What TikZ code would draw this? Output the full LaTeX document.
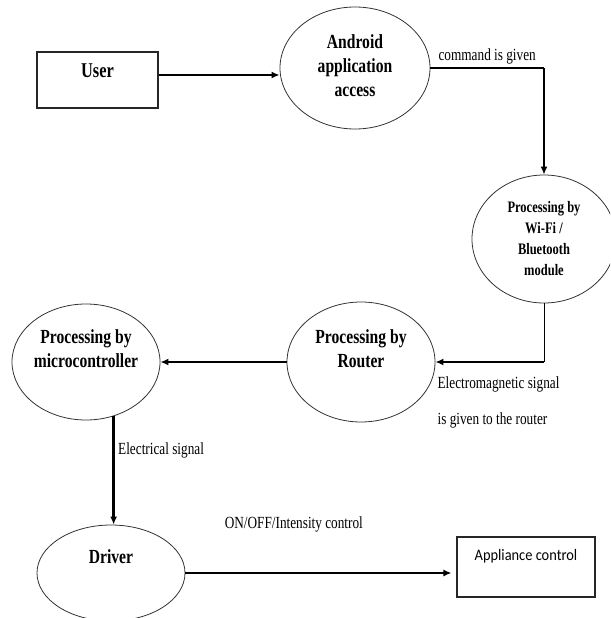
\documentclass[tikz,border=0pt]{standalone}
\usepackage{fontspec}
\setmainfont{Liberation Serif}
\newfontfamily\narrowserif{Liberation Serif}[FakeStretch=0.78]
\newfontfamily\applfont{Carlito}[FakeStretch=0.9]
\usetikzlibrary{shapes.geometric,positioning,arrows.meta}

\begin{document}
\begin{tikzpicture}[x=1pt,y=-1pt,>={Latex[length=8pt,width=7pt]},on grid,
    blob/.style={ellipse,draw=black!80,line width=0.8pt,inner sep=0pt},
    box/.style={rectangle,draw=black!85,line width=1.1pt,inner sep=0pt},
    caption/.style 2 args={font=\narrowserif\bfseries\fontsize{#1}{#2}\selectfont,align=center,inner sep=0pt},
    tag/.style={font=\narrowserif\fontsize{17}{20}\selectfont},
    flow/.style={->,line width=2.5pt},
    wire/.style={line width=1pt}]
                \useasboundingbox (0,0) rectangle (610,618);
                \clip (0,0) rectangle (610,618);

                \node[box,minimum width=121pt,minimum height=56pt,label={[caption={21}{24},yshift=9pt]center:User}] (user) at (97.5,80) {};
                \node[blob,minimum width=150pt,minimum height=122pt,label={[caption={20}{24},yshift=2pt]center:Android\\application\\access}] (android) [above right=12pt and 257.5pt of user] {};
                \node[blob,minimum width=144pt,minimum height=128pt,label={[caption={16}{21}]center:Processing by\\Wi-Fi /\\Bluetooth\\module}] (wifi) [below right=171pt and 189pt of android] {};
                \node[blob,minimum width=148pt,minimum height=120pt,label={[caption={20}{24},yshift=13pt]center:Processing by\\Router}] (router) [below left=123pt and 183pt of wifi] {};
                \node[blob,minimum width=148pt,minimum height=116pt,label={[caption={20}{24},yshift=13pt]center:Processing by\\microcontroller}] (mcu) [left=275pt of router] {};
                \node[blob,minimum width=148pt,minimum height=96pt,label={[caption={20}{24},yshift=16pt]center:Driver}] (driver) [below right=211pt and 25pt of mcu] {};
                \node[box,minimum width=138pt,minimum height=60pt,label={[font=\applfont\fontsize{16}{19}\selectfont,inner sep=0pt,yshift=11pt]center:Appliance control}] (load) [above right=6pt and 415pt of driver] {};

                \coordinate (u_out) at ([yshift=5pt]user.east);
                \draw[flow] (u_out) -- (u_out -| android.west);
                \draw[wire] (android.east) -- node[tag,above] {command is given} (android.east -| wifi.north);
                \draw[flow,line width=2pt] (android.east -| wifi.north) -- (wifi.north);
                \draw[wire] (wifi.south) -- (wifi.south |- router.east);
                \draw[flow] (wifi.south |- router.east) -- (router.east);
                \node[tag,font=\narrowserif\fontsize{17}{36}\selectfont,align=left,anchor=north west,inner sep=0pt] (em_txt) at ([shift={(2pt,-14pt)}]router.east) {Electromagnetic signal\\is given to the router};
                \draw[flow] (router.west) -- (mcu.east);
                \draw[flow] (mcu.-63) -- node[tag,pos=.32,right] {Electrical signal} (mcu.-63 |- driver.north);
                \draw[flow,shorten >=5pt] (driver.east) -- node[tag,pos=.4,above=36pt] {ON/OFF/Intensity control} (driver.east -| load.west);
\end{tikzpicture}
\end{document}
